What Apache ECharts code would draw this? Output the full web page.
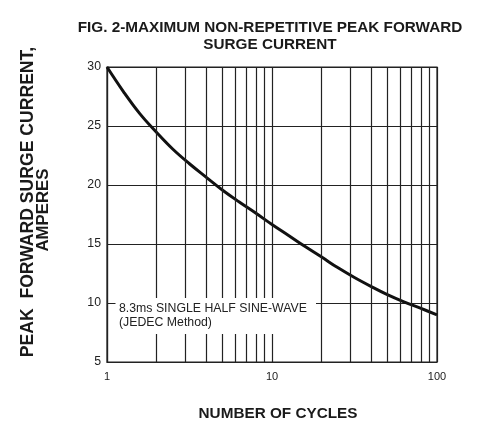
<!DOCTYPE html>
<html>
<head>
<meta charset="utf-8">
<script src="https://cdn.jsdelivr.net/npm/echarts@6/dist/echarts.min.js"></script>
<style>
html,body{margin:0;padding:0;background:#fff;}
#c{width:482px;height:434px;}
</style>
</head>
<body>
<div id="c"></div>
<script>
var cycles = [1, 1.26, 1.58, 2, 2.5, 3.16, 4, 5, 6.3, 8, 10, 12.6, 15.8, 20, 25, 31.6, 40, 50, 63, 80, 100];
var current = [30, 27.9, 26.05, 24.45, 23.05, 21.8, 20.65, 19.58, 18.58, 17.6, 16.65, 15.72, 14.8, 13.89, 13.0, 12.16, 11.39, 10.71, 10.1, 9.54, 9.0];
var minorX = [2, 3, 4, 5, 6, 7, 8, 9, 20, 30, 40, 50, 60, 70, 80, 90];
var yTicks = [5, 10, 15, 20, 25, 30];
var titleLines = ['FIG. 2-MAXIMUM NON-REPETITIVE PEAK FORWARD', 'SURGE CURRENT'];
var xName = 'NUMBER OF CYCLES';
var yNameLines = ['PEAK  FORWARD SURGE CURRENT,', 'AMPERES'];
var noteLines = ['8.3ms SINGLE HALF SINE-WAVE', '(JEDEC Method)'];

var chart = echarts.init(document.getElementById('c'));
var FONT = '"Liberation Sans", Arial, sans-serif';
var INK = '#222';

chart.setOption({
  animation: false,
  backgroundColor: '#fff',
  title: {
    text: titleLines.join('\n'),
    left: 265, top: 14, textAlign: 'center',
    textStyle: {fontFamily: FONT, fontWeight: 'bold', fontSize: 15.3, color: '#1a1a1a', lineHeight: 17}
  },
  grid: {left: 107, right: 45, top: 67, bottom: 72, show: true, borderColor: INK, borderWidth: 1.2, containLabel: false},
  xAxis: {
    type: 'log', logBase: 10, min: 1, max: 100,
    name: xName, nameLocation: 'middle', nameGap: 44,
    nameTextStyle: {fontFamily: FONT, fontWeight: 'bold', fontSize: 15.3, color: '#1a1a1a', padding: [0, 0, 0, 12]},
    axisLine: {show: true, lineStyle: {color: INK, width: 1.2}},
    axisTick: {show: false},
    axisLabel: {fontFamily: FONT, fontSize: 11, color: INK, margin: 9},
    splitLine: {show: true, lineStyle: {color: INK, width: 1.2}},
    minorTick: {show: false}, minorSplitLine: {show: false}
  },
  yAxis: {
    type: 'value', min: 5, max: 30, interval: 5,
    axisLine: {show: true, lineStyle: {color: INK, width: 1.2}},
    axisTick: {show: false},
    axisLabel: {fontFamily: FONT, fontSize: 12.3, color: INK, margin: 6,
      formatter: function (v) { return yTicks.indexOf(v) >= 0 ? String(v) : ''; }},
    splitLine: {show: true, lineStyle: {color: INK, width: 1.2}}
  },
  series: [{
    type: 'line',
    data: cycles.map(function (c, i) { return [c, current[i]]; }),
    smooth: 0.4,
    showSymbol: false,
    z: 3,
    lineStyle: {color: '#111', width: 3},
    markLine: {
      silent: true, symbol: 'none', label: {show: false},
      lineStyle: {color: INK, width: 1.2, type: 'solid'},
      emphasis: {disabled: true},
      data: minorX.map(function (v) { return {xAxis: v}; })
    }
  }],
  graphic: [
    {type: 'rect', z: 100, shape: {x: 115.5, y: 298, width: 200.5, height: 36}, style: {fill: '#fff'}},
    {type: 'text', z: 101, left: 119, top: 302,
      style: {text: noteLines.join('\n'), fontFamily: FONT, fontSize: 12.3, lineHeight: 13.5, fill: INK}},
    {type: 'text', z: 101, x: 28, y: 202, rotation: Math.PI / 2,
      style: {text: yNameLines[0], fontFamily: FONT, fontWeight: 'bold', fontSize: 17.6, fill: '#1a1a1a',
        align: 'center', verticalAlign: 'middle'}},
    {type: 'text', z: 101, x: 43, y: 210, rotation: Math.PI / 2,
      style: {text: yNameLines[1], fontFamily: FONT, fontWeight: 'bold', fontSize: 16.8, fill: '#1a1a1a',
        align: 'center', verticalAlign: 'middle'}}
  ]
});
</script>
</body>
</html>
